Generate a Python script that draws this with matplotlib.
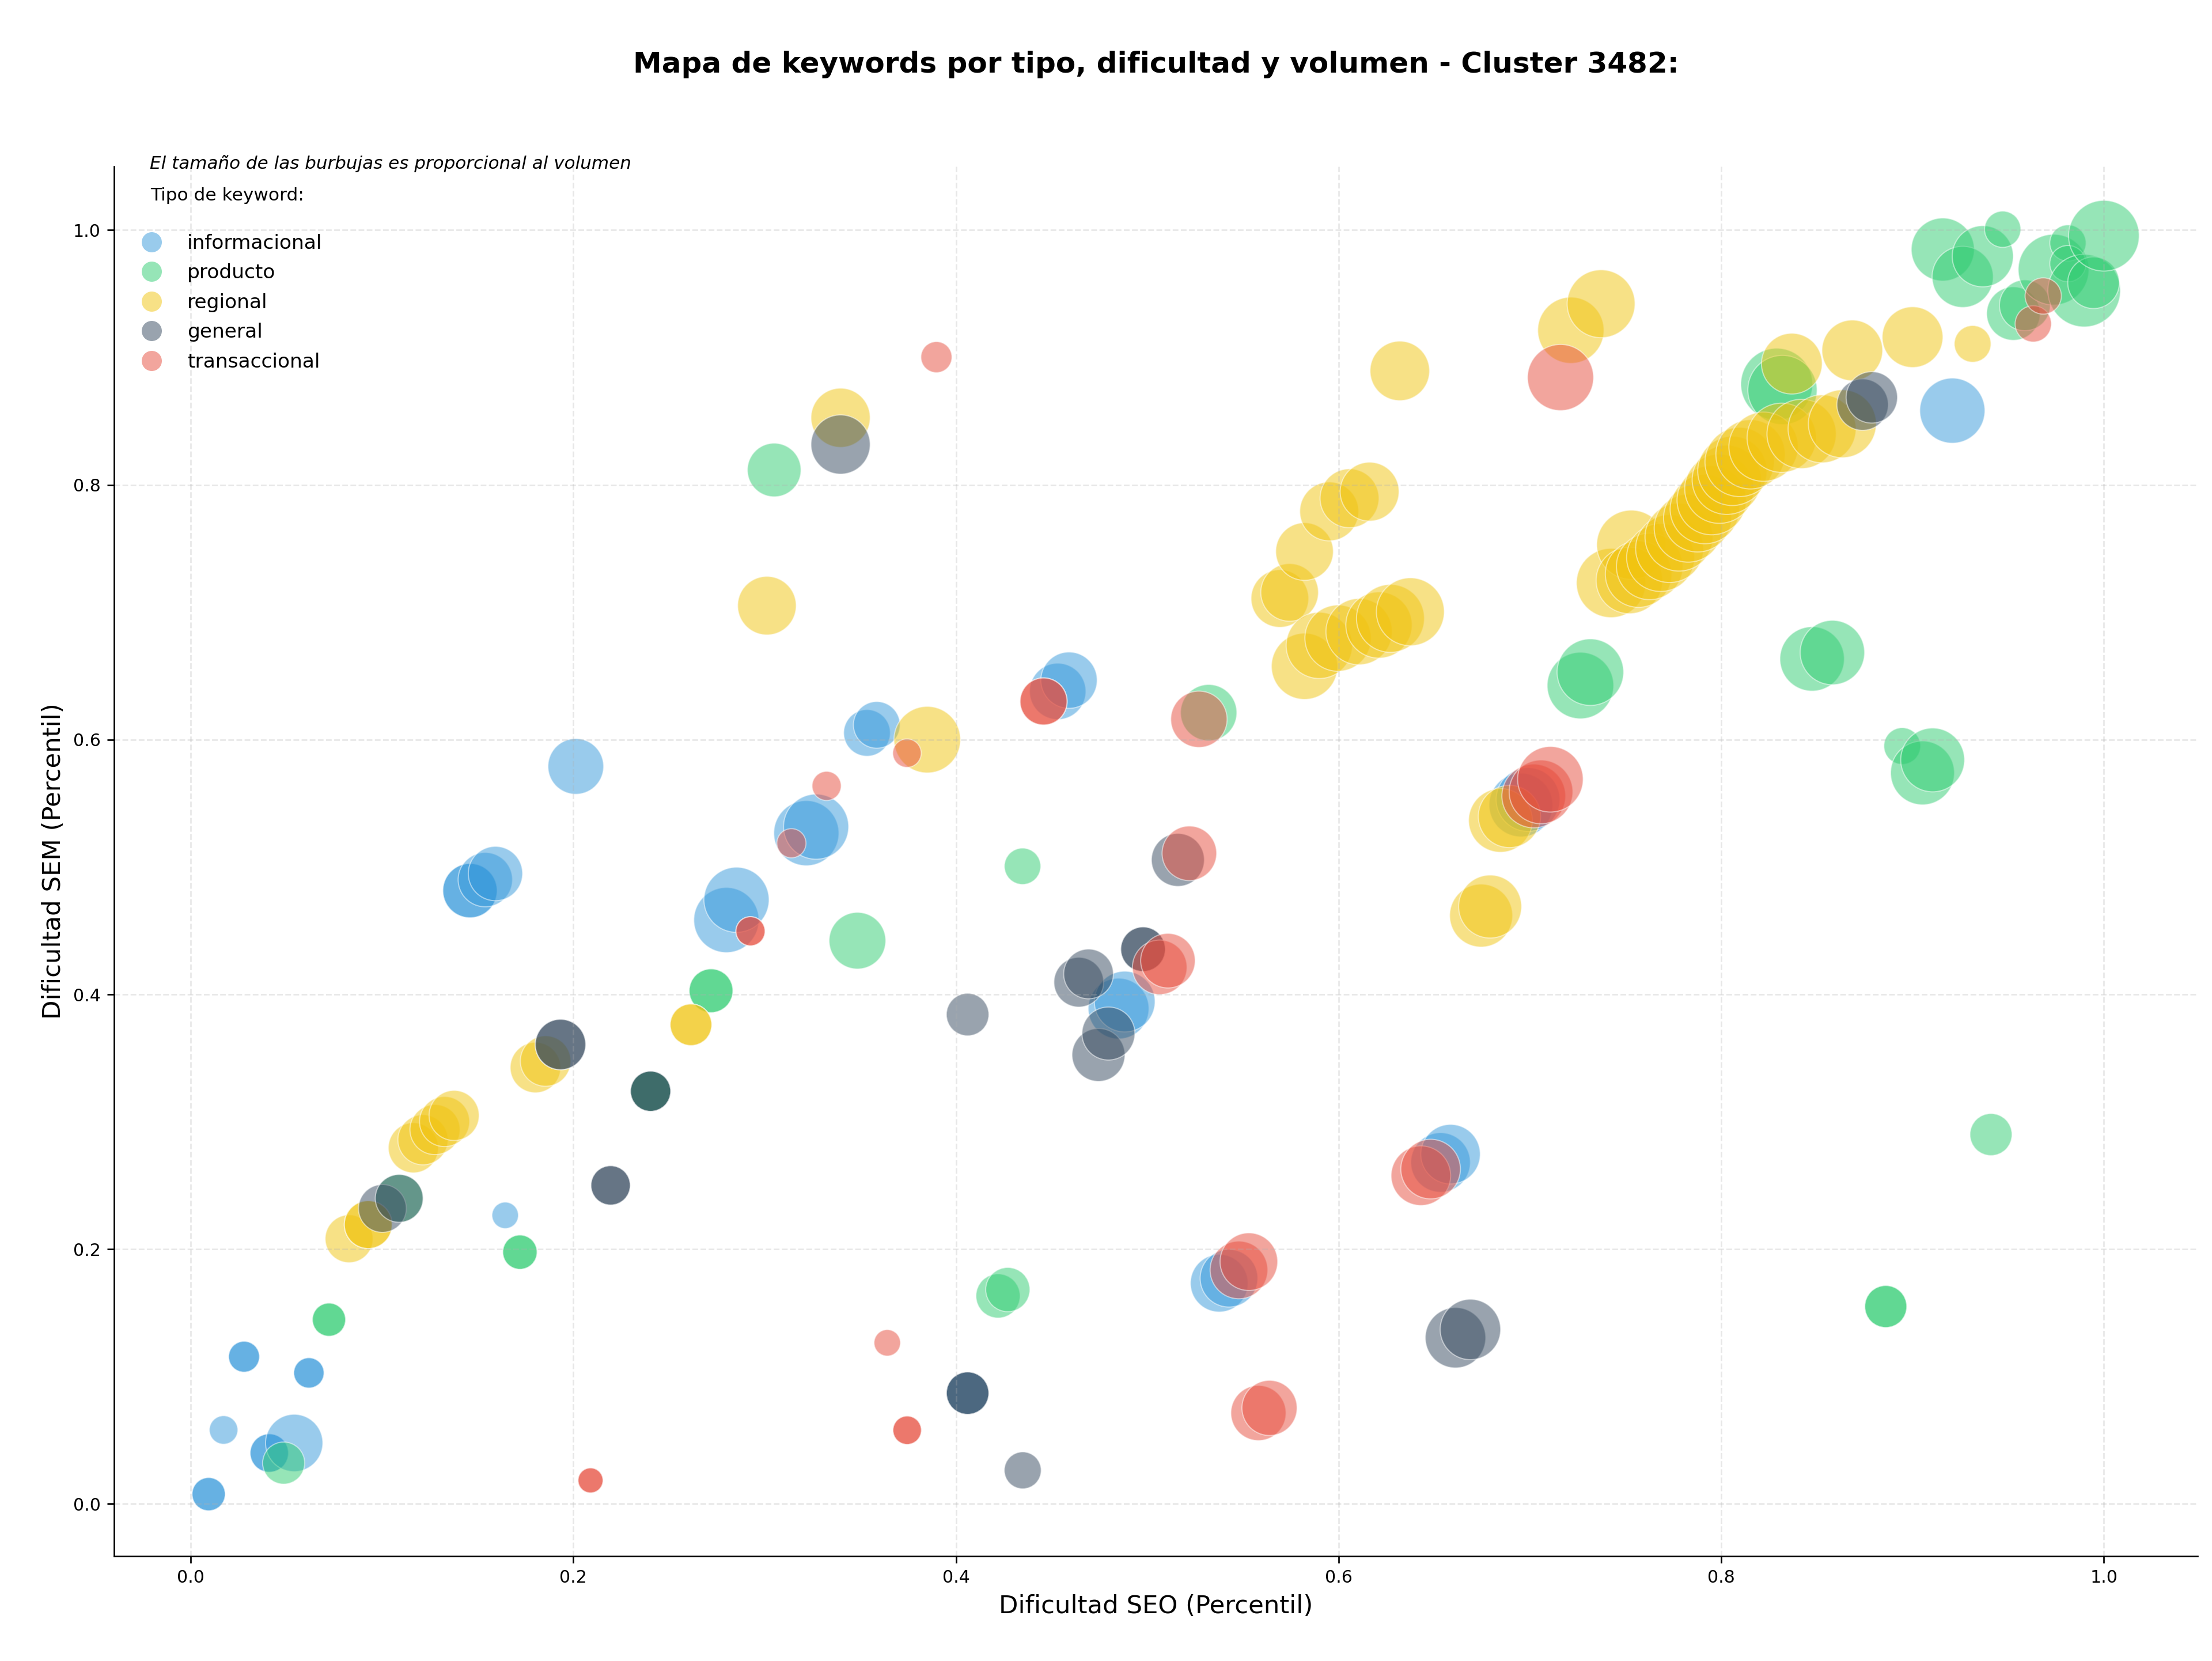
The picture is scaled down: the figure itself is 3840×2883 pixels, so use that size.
import matplotlib
matplotlib.use("Agg")
import matplotlib.pyplot as plt
from matplotlib.lines import Line2D

# ---------------- data ----------------
tipos = ["informacional", "producto", "regional", "general", "transaccional"]
colores = ["#3498db", "#2ecc71", "#f1c40f", "#34495e", "#e74c3c"]

info_seo = [0.0094, 0.0094, 0.0172, 0.0279, 0.0279, 0.0411, 0.0411, 0.0541, 0.0618, 0.0618,
            0.1644, 0.1460, 0.1460, 0.1540, 0.1593, 0.2013, 0.2800, 0.2853, 0.3218, 0.3269,
            0.3535, 0.3586, 0.4532, 0.4591, 0.4850, 0.4882, 0.5376, 0.5427, 0.6533, 0.6585,
            0.6953, 0.6990, 0.9208, 0.4061]
info_sem = [0.0077, 0.0077, 0.0581, 0.1156, 0.1156, 0.0400, 0.0400, 0.0479, 0.1029, 0.1029,
            0.2266, 0.4815, 0.4815, 0.4901, 0.4949, 0.5790, 0.4584, 0.4743, 0.5266, 0.5317,
            0.6053, 0.6116, 0.6379, 0.6467, 0.3889, 0.3944, 0.1733, 0.1772, 0.2681, 0.2746,
            0.5487, 0.5530, 0.8583, 0.0870]
info_vol = [300, 300, 220, 260, 260, 400, 400, 890, 250, 250,
            190, 800, 800, 800, 800, 840, 1150, 1150, 1150, 1150,
            590, 590, 860, 860, 1000, 1000, 900, 900, 960, 960,
            1100, 1100, 1150, 490]

prod_seo = [0.0486, 0.0723, 0.0723, 0.1721, 0.1721, 0.2404, 0.2404, 0.1090, 0.2720, 0.2720,
            0.3050, 0.3485, 0.4220, 0.4271, 0.4348, 0.5321, 0.7264, 0.7316, 0.8290, 0.8320,
            0.8475, 0.8581, 0.8860, 0.8860, 0.8946, 0.9052, 0.9105, 0.9410, 0.9158, 0.9262,
            0.9367, 0.9471, 0.9527, 0.9587, 0.9737, 0.9812, 0.9812, 0.9897, 0.9946, 1.0000]
prod_sem = [0.0321, 0.1447, 0.1447, 0.1977, 0.1977, 0.3240, 0.3240, 0.2399, 0.4029, 0.4029,
            0.8117, 0.4422, 0.1633, 0.1683, 0.5006, 0.6212, 0.6425, 0.6530, 0.8791, 0.8745,
            0.6634, 0.6684, 0.1550, 0.1550, 0.5950, 0.5739, 0.5841, 0.2900, 0.9848, 0.9633,
            0.9795, 1.0007, 0.9345, 0.9410, 0.9690, 0.9899, 0.9737, 0.9525, 0.9587, 0.9956]
prod_vol = [480, 300, 300, 320, 320, 440, 440, 620, 520, 520,
            780, 870, 530, 530, 360, 860, 1200, 1200, 1400, 1300,
            1125, 1125, 480, 480, 366, 1105, 1105, 480, 1077, 1013,
            1013, 357, 776, 700, 1355, 357, 357, 1430, 722, 1355]

reg_seo = [0.0828, 0.0928, 0.0928, 0.1164, 0.1214, 0.1277, 0.1327, 0.1377, 0.1802, 0.1855,
           0.2615, 0.2615, 0.3012, 0.3397, 0.3850, 0.5693, 0.5744, 0.5822, 0.5951, 0.6057,
           0.6162, 0.6320, 0.5822, 0.5899, 0.5997, 0.6107, 0.6211, 0.6271, 0.6375, 0.6745,
           0.6792, 0.6846, 0.6893, 0.7214, 0.7372,
           0.7424, 0.7530, 0.7520, 0.7568, 0.7626, 0.7683, 0.7730, 0.7779, 0.7827, 0.7876,
           0.7914, 0.7950, 0.7990, 0.8029, 0.8058, 0.8096, 0.8153, 0.8221, 0.8316, 0.8420,
           0.8527, 0.8633, 0.8369, 0.8685, 0.9000, 0.9314]
reg_sem = [0.2082, 0.2193, 0.2193, 0.2796, 0.2859, 0.2939, 0.3002, 0.3050, 0.3426, 0.3477,
           0.3762, 0.3762, 0.7052, 0.8527, 0.6000, 0.7108, 0.7156, 0.7477, 0.7792, 0.7895,
           0.7947, 0.8895, 0.6576, 0.6740, 0.6797, 0.6848, 0.6900, 0.6952, 0.7004, 0.4619,
           0.4690, 0.5366, 0.5397, 0.9214, 0.9422,
           0.7230, 0.7530, 0.7250, 0.7300, 0.7360, 0.7430, 0.7500, 0.7590, 0.7660, 0.7740,
           0.7810, 0.7880, 0.7970, 0.8040, 0.8110, 0.8180, 0.8240, 0.8300, 0.8370, 0.8400,
           0.8440, 0.8480, 0.8952, 0.9056, 0.9160, 0.9107]
reg_vol = [620, 620, 620, 680, 680, 680, 680, 680, 690, 690,
           470, 470, 930, 950, 1200, 900, 900, 900, 940, 940,
           940, 960, 1190, 1190, 1190, 1190, 1190, 1250, 1250, 1075,
           1075, 1100, 1050, 1190, 1250,
           1300, 1300, 1200, 1200, 1200, 1250, 1250, 1250, 1250, 1250,
           1300, 1300, 1300, 1300, 1300, 1300, 1300, 1300, 1300, 1300,
           1250, 1250, 1000, 1000, 1000, 366]

gen_seo = [0.1002, 0.1090, 0.1933, 0.1933, 0.2195, 0.2195, 0.2404, 0.2404, 0.3397, 0.4061,
           0.4061, 0.4061, 0.4349, 0.4642, 0.4693, 0.4745, 0.4797, 0.4978, 0.4978, 0.5160,
           0.6611, 0.6689, 0.8739, 0.8787]
gen_sem = [0.2320, 0.2399, 0.3607, 0.3607, 0.2501, 0.2501, 0.3240, 0.3240, 0.8317, 0.3842,
           0.0870, 0.0870, 0.0264, 0.4096, 0.4161, 0.3525, 0.3693, 0.4355, 0.4355, 0.5056,
           0.1305, 0.1370, 0.8630, 0.8687]
gen_vol = [620, 620, 690, 690, 420, 420, 440, 440, 950, 490,
           490, 490, 370, 670, 670, 760, 760, 540, 540, 760,
           990, 990, 716, 716]

tra_seo = [0.2090, 0.2090, 0.2926, 0.2926, 0.3140, 0.3324, 0.3641, 0.3745, 0.3745, 0.3744,
           0.3898, 0.4458, 0.4458, 0.5065, 0.5108, 0.5220, 0.5270, 0.5479, 0.5531, 0.5581,
           0.5639, 0.6430, 0.6481, 0.7020, 0.7058, 0.7107, 0.7160, 0.9631, 0.9683]
tra_sem = [0.0185, 0.0185, 0.4496, 0.4496, 0.5187, 0.5637, 0.1265, 0.0579, 0.0579, 0.5894,
           0.9003, 0.6300, 0.6300, 0.4213, 0.4265, 0.5108, 0.6160, 0.1837, 0.1902, 0.0714,
           0.0754, 0.2577, 0.2629, 0.5558, 0.5590, 0.5689, 0.8843, 0.9264, 0.9483]
tra_vol = [170, 170, 230, 230, 230, 230, 190, 220, 220, 220,
           262, 600, 600, 807, 807, 807, 860, 900, 900, 824,
           824, 961, 961, 1100, 1100, 1165, 1185, 357, 357]

series = [
    (info_seo, info_sem, info_vol),
    (prod_seo, prod_sem, prod_vol),
    (reg_seo, reg_sem, reg_vol),
    (gen_seo, gen_sem, gen_vol),
    (tra_seo, tra_sem, tra_vol),
]

# ---------------- figure ----------------
fig = plt.figure(figsize=(16, 2883 / 240), dpi=240)
ax = fig.add_axes([0.0516, 0.0631, 0.9419, 0.8367])

for (xs, ys, vs), tipo, col in zip(series, tipos, colores):
    ax.scatter(xs, ys, s=vs, c=col, alpha=0.5, edgecolors="white",
               linewidths=0.6, label=tipo)

ax.set_xlim(-0.040, 1.049)
ax.set_ylim(-0.041, 1.050)
ax.set_xticks([0.0, 0.2, 0.4, 0.6, 0.8, 1.0])
ax.set_yticks([0.0, 0.2, 0.4, 0.6, 0.8, 1.0])
ax.tick_params(labelsize=9)

ax.grid(True, linestyle="--", alpha=0.3)
for side in ["top", "right"]:
    ax.spines[side].set_visible(False)

ax.set_xlabel("Dificultad SEO (Percentil)", fontsize=13)
ax.set_ylabel("Dificultad SEM (Percentil)", fontsize=13)
ax.set_title("Mapa de keywords por tipo, dificultad y volumen - Cluster 3482:",
             fontsize=15, fontweight="bold", pad=49)

handles = [Line2D([0], [0], marker="o", linestyle="", markersize=10.5,
                  markerfacecolor=c, markeredgecolor="none", alpha=0.5)
           for c in colores]
ax.legend(handles, tipos, title="Tipo de keyword:\n", loc="upper left",
          bbox_to_anchor=(0.0, 0.998), frameon=False, fontsize=10.3,
          title_fontsize=9.4, labelspacing=0.54)

ax.text(0.017, 1.002, "El tamaño de las burbujas es proporcional al volumen",
        transform=ax.transAxes, fontsize=9.3, style="italic", va="center", ha="left")

fig.savefig("out.png", dpi=240)
